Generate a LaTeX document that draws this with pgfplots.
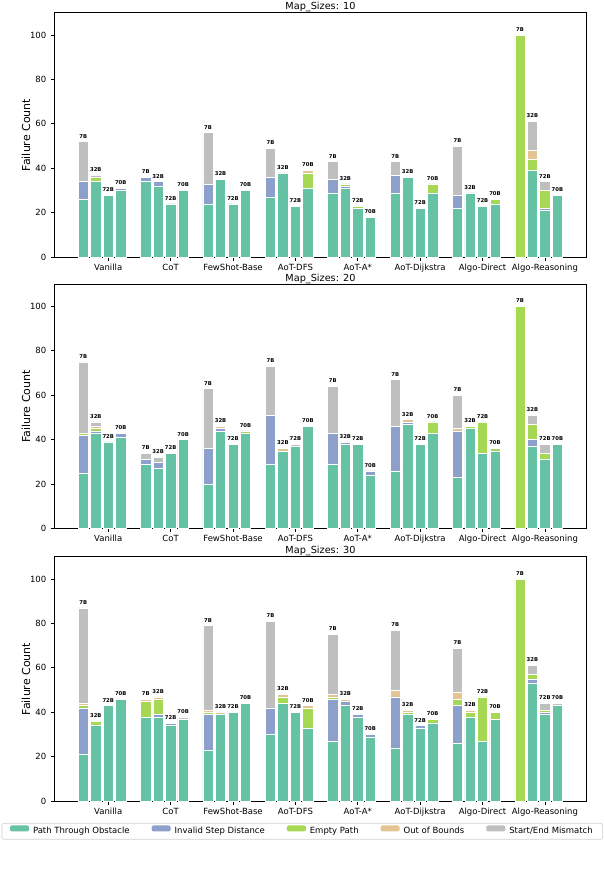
\documentclass[border=0pt]{standalone}
\usepackage{pgfplots}
\usepackage{pgfplotstable}
\pgfplotsset{compat=1.18}
\usepackage{fontspec}
\setmainfont{DejaVu Sans}

\definecolor{cPTO}{HTML}{66C2A5}
\definecolor{cISD}{HTML}{8DA0CB}
\definecolor{cEP}{HTML}{A6D854}
\definecolor{cOOB}{HTML}{E5C494}
\definecolor{cSEM}{HTML}{BFBFBF}

% columns: x position, path through obstacle, invalid step, empty path, out of bounds, start/end mismatch, size label
\pgfplotstableread{
x pto isd ep oob sem lab
-0.3 26 8 0 0 18 7B
-0.1 34 0 2 0 1 32B
0.1 28 0 0 0 0 72B
0.3 30 1 0 0 0 70B
0.7 34 2 0 0 0 7B
0.9 32 2 0 0 0 32B
1.1 24 0 0 0 0 72B
1.3 30 0 0 0 0 70B
1.7 24 9 0 0 23 7B
1.9 35 0 0 0 0 32B
2.1 24 0 0 0 0 72B
2.3 30 0 0 0 0 70B
2.7 27 9 0 0 13 7B
2.9 38 0 0 0 0 32B
3.1 23 0 0 0 0 72B
3.3 31 0 7 1 0 70B
3.7 29 6 0 0 8 7B
3.9 31 1 1 0 0 32B
4.1 22 0 1 0 0 72B
4.3 18 0 0 0 0 70B
4.7 29 8 0 0 6 7B
4.9 36 0 0 0 0 32B
5.1 22 0 0 0 0 72B
5.3 29 0 4 0 0 70B
5.7 22 6 0 0 22 7B
5.9 29 0 0 0 0 32B
6.1 23 0 0 0 0 72B
6.3 24 0 2 0 0 70B
6.7 0 0 100 0 0 7B
6.9 39 0 5 4 13 32B
7.1 21 1 8 0 4 72B
7.3 28 0 0 0 0 70B
}\tabA

\pgfplotstableread{
x pto isd ep oob sem lab
-0.3 25 17 1 0 32 7B
-0.1 43 1 1 1 2 32B
0.1 39 0 0 0 0 72B
0.3 41 2 0 0 0 70B
0.7 29 2 0 0 3 7B
0.9 27 3 0 0 2 32B
1.1 34 0 0 0 0 72B
1.3 40 0 0 0 0 70B
1.7 20 16 0 0 27 7B
1.9 44 1 0 1 0 32B
2.1 38 0 0 0 0 72B
2.3 43 0 1 0 0 70B
2.7 29 22 0 0 22 7B
2.9 35 0 0 1 0 32B
3.1 37 0 0 0 1 72B
3.3 46 0 0 0 0 70B
3.7 29 14 0 0 21 7B
3.9 38 1 0 0 0 32B
4.1 38 0 0 0 0 72B
4.3 24 2 0 0 0 70B
4.7 26 20 0 0 21 7B
4.9 47 1 0 1 0 32B
5.1 38 0 0 0 0 72B
5.3 43 0 5 0 0 70B
5.7 23 21 0 1 15 7B
5.9 45 0 1 0 0 32B
6.1 34 0 14 0 0 72B
6.3 35 0 1 0 0 70B
6.7 0 0 100 0 0 7B
6.9 37 3 7 0 4 32B
7.1 31 0 3 0 4 72B
7.3 38 0 0 0 0 70B
}\tabB

\pgfplotstableread{
x pto isd ep oob sem lab
-0.3 21 21 1 1 43 7B
-0.1 34 0 2 0 0 32B
0.1 43 0 0 0 0 72B
0.3 46 0 0 0 0 70B
0.7 38 0 7 1 0 7B
0.9 38 1 7 1 0 32B
1.1 34 1 0 0 0 72B
1.3 37 0 0 0 1 70B
1.7 23 16 1 1 38 7B
1.9 39 0 0 1 0 32B
2.1 40 0 0 0 0 72B
2.3 44 0 0 0 0 70B
2.7 30 12 0 0 39 7B
2.9 44 0 3 1 0 32B
3.1 40 0 0 0 0 72B
3.3 33 0 9 1 0 70B
3.7 27 19 1 1 27 7B
3.9 43 2 0 1 0 32B
4.1 38 1 0 0 0 72B
4.3 29 1 0 0 0 70B
4.7 24 23 0 3 27 7B
4.9 39 0 1 1 0 32B
5.1 33 1 0 0 0 72B
5.3 35 0 2 0 0 70B
5.7 26 17 3 3 20 7B
5.9 38 0 2 1 0 32B
6.1 27 0 20 0 0 72B
6.3 37 0 3 0 0 70B
6.7 0 0 100 0 0 7B
6.9 53 2 2 0 4 32B
7.1 39 1 1 0 3 72B
7.3 43 0 0 0 1 70B
}\tabC

% bar totals, for the size labels on top of each bar
\pgfplotstablecreatecol[expr={\thisrow{pto}+\thisrow{isd}+\thisrow{ep}+\thisrow{oob}+\thisrow{sem}}]{tot}\tabA
\pgfplotstablecreatecol[expr={\thisrow{pto}+\thisrow{isd}+\thisrow{ep}+\thisrow{oob}+\thisrow{sem}}]{tot}\tabB
\pgfplotstablecreatecol[expr={\thisrow{pto}+\thisrow{isd}+\thisrow{ep}+\thisrow{oob}+\thisrow{sem}}]{tot}\tabC

\pgfplotsset{
  geom/.style={
    scale only axis, width=532.4pt, height=244.6pt,
    xmin=-0.765, xmax=7.77, ymin=0, ymax=110,
  },
  panel/.style={
    geom,
    ybar stacked, bar width=0.165,
    xtick={0.1,1.1,2.1,3.1,4.1,5.1,6.1,7.1},
    xticklabels={Vanilla,CoT,FewShot-Base,AoT-DFS,AoT-A*,AoT-Dijkstra,Algo-Direct,Algo-Reasoning},
    ytick={0,20,40,60,80,100},
    tick pos=left, tick align=outside, major tick length=3.5pt,
    every tick/.style={black, line width=0.8pt},
    axis line style={line width=0.8pt},
    ticklabel style={font=\fontsize{8.5}{10}\selectfont},
    xticklabel style={anchor=north, inner sep=0pt, yshift=-3.1pt},
    yticklabel style={anchor=east, inner sep=0pt, xshift=-4.3pt},
    /pgf/number format/assume math mode=true,
    ylabel={Failure Count},
    ylabel style={at={(axis description cs:-0.0456,0.5)}, anchor=base, inner sep=0pt, font=\fontsize{11}{13}\selectfont},
    every axis title/.style={at={(0.5,1)}, anchor=base, yshift=2.7pt, inner sep=0pt, font=\fontsize{9.7}{11}\selectfont},
  },
  seg/.style={fill=#1, draw=white, line width=0.55pt},
  sizelab/.style={geom, hide axis, clip=false},
}

\newcommand{\sizelabels}[1]{%
  \addplot[draw=none, mark=none,
    nodes near coords, point meta=explicit symbolic,
    every node near coord/.style={text=black, font=\fontsize{5.3}{6}\selectfont\bfseries, anchor=south, inner sep=0pt, yshift=3.4pt}]
    table[x=x, y=tot, meta=lab] {#1};}

\begin{document}
\begin{tikzpicture}
\useasboundingbox (0,0) rectangle (604pt,874pt);

\begin{axis}[panel, at={(54.3pt,616.7pt)}, anchor=south west, title={Map\_Sizes: 10}]
\addplot[seg=cPTO] table[x=x, y=pto] {\tabA};
\addplot[seg=cISD] table[x=x, y=isd] {\tabA};
\addplot[seg=cEP] table[x=x, y=ep] {\tabA};
\addplot[seg=cOOB] table[x=x, y=oob] {\tabA};
\addplot[seg=cSEM] table[x=x, y=sem] {\tabA};
\end{axis}
\begin{axis}[sizelab, at={(54.3pt,616.7pt)}, anchor=south west]
\sizelabels{\tabA}
\end{axis}

\begin{axis}[panel, at={(54.3pt,345.3pt)}, anchor=south west, title={Map\_Sizes: 20}]
\addplot[seg=cPTO] table[x=x, y=pto] {\tabB};
\addplot[seg=cISD] table[x=x, y=isd] {\tabB};
\addplot[seg=cEP] table[x=x, y=ep] {\tabB};
\addplot[seg=cOOB] table[x=x, y=oob] {\tabB};
\addplot[seg=cSEM] table[x=x, y=sem] {\tabB};
\end{axis}
\begin{axis}[sizelab, at={(54.3pt,345.3pt)}, anchor=south west]
\sizelabels{\tabB}
\end{axis}

\begin{axis}[panel, at={(54.3pt,72.7pt)}, anchor=south west, title={Map\_Sizes: 30},
  legend columns=5,
  legend image code/.code={\fill[#1, draw=none] (0pt,-0.2pt) rectangle (19pt,5.8pt);},
  legend style={at={(0.466,-0.0887)}, anchor=north, draw=black!18, rounded corners=2pt,
    line width=0.6pt, font=\fontsize{8.5}{10}\selectfont, inner xsep=8pt, inner ysep=2pt,
    /tikz/every even column/.append style={column sep=20pt},
    /tikz/every odd column/.append style={column sep=2pt}}]
\addplot[seg=cPTO] table[x=x, y=pto] {\tabC};
\addlegendentry{Path Through Obstacle}
\addplot[seg=cISD] table[x=x, y=isd] {\tabC};
\addlegendentry{Invalid Step Distance}
\addplot[seg=cEP] table[x=x, y=ep] {\tabC};
\addlegendentry{Empty Path}
\addplot[seg=cOOB] table[x=x, y=oob] {\tabC};
\addlegendentry{Out of Bounds}
\addplot[seg=cSEM] table[x=x, y=sem] {\tabC};
\addlegendentry{Start/End Mismatch}
\end{axis}
\begin{axis}[sizelab, at={(54.3pt,72.7pt)}, anchor=south west]
\sizelabels{\tabC}
\end{axis}
\end{tikzpicture}
\end{document}
